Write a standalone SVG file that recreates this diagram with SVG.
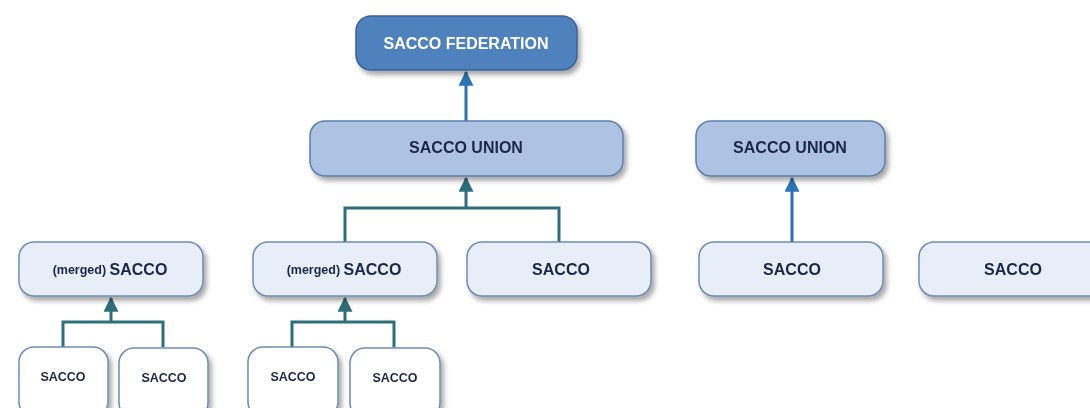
<svg xmlns="http://www.w3.org/2000/svg" width="1090" height="408" viewBox="0 0 1090 408">
<defs>
<filter id="sh" x="-10%" y="-20%" width="130%" height="160%">
<feDropShadow dx="3" dy="4" stdDeviation="2.5" flood-color="#000" flood-opacity="0.35"/>
</filter>
<marker id="ab" viewBox="0 0 12 12" refX="11" refY="6" markerWidth="15" markerHeight="15" markerUnits="userSpaceOnUse" orient="auto">
<path d="M0,0 L12,6 L0,12 Z" fill="#2a73b5"/>
</marker>
<marker id="at" viewBox="0 0 12 12" refX="11" refY="6" markerWidth="15" markerHeight="15" markerUnits="userSpaceOnUse" orient="auto">
<path d="M0,0 L12,6 L0,12 Z" fill="#2e6e7a"/>
</marker>
</defs>
<style>
text{font-family:"Liberation Sans",Arial,sans-serif;font-weight:bold;text-anchor:middle;fill:#1a2747}
.fed rect{fill:#4f81bd;stroke:#3a639a;stroke-width:1.5}
.fed text{fill:#ffffff;font-size:16px}
.uni rect{fill:#aec3e3;stroke:#5f7ea8;stroke-width:1.5}
.uni text{font-size:16px}
.s2 rect{fill:#e8eef8;stroke:#6f8cb3;stroke-width:1.5}
.s2 text{font-size:16px}
.s2 .m{font-size:12.5px}
.s3 rect{fill:#ffffff;stroke:#6f8cb3;stroke-width:1.5}
.s3 text{font-size:12.5px}
.cb{fill:none;stroke:#2a73b5;stroke-width:3}
.ct{fill:none;stroke:#2e6e7a;stroke-width:3}
</style>
<g id="connectors">
<path class="cb" d="M466,121 L466,72" marker-end="url(#ab)"/>
<path class="cb" d="M792,242 L792,178" marker-end="url(#ab)"/>
<path class="ct" d="M345,242 L345,208 L559,208 L559,242"/>
<path class="ct" d="M466,208 L466,178" marker-end="url(#at)"/>
<path class="ct" d="M63,347 L63,322 L163,322 L163,347"/>
<path class="ct" d="M111,322 L111,298" marker-end="url(#at)"/>
<path class="ct" d="M292,347 L292,322 L394,322 L394,347"/>
<path class="ct" d="M345,322 L345,298" marker-end="url(#at)"/>
</g>
<g id="federation" class="fed" filter="url(#sh)">
<rect x="356" y="16" width="221" height="54" rx="15"/>
<text x="466" y="49">SACCO FEDERATION</text>
</g>
<g id="union1" class="uni" filter="url(#sh)">
<rect x="310" y="121" width="313" height="55" rx="15"/>
<text x="466" y="153">SACCO UNION</text>
</g>
<g id="union2" class="uni" filter="url(#sh)">
<rect x="696" y="121" width="189" height="55" rx="15"/>
<text x="790" y="153">SACCO UNION</text>
</g>
<g id="merged1" class="s2" filter="url(#sh)">
<rect x="19" y="242" width="184" height="54" rx="15"/>
<text x="110" y="275"><tspan class="m" dy="-1">(merged) </tspan><tspan dy="1">SACCO</tspan></text>
</g>
<g id="merged2" class="s2" filter="url(#sh)">
<rect x="253" y="242" width="184" height="54" rx="15"/>
<text x="344" y="275"><tspan class="m" dy="-1">(merged) </tspan><tspan dy="1">SACCO</tspan></text>
</g>
<g id="sacco2a" class="s2" filter="url(#sh)">
<rect x="467" y="242" width="184" height="54" rx="15"/>
<text x="561" y="275">SACCO</text>
</g>
<g id="sacco2b" class="s2" filter="url(#sh)">
<rect x="699" y="242" width="184" height="54" rx="15"/>
<text x="792" y="275">SACCO</text>
</g>
<g id="sacco2c" class="s2" filter="url(#sh)">
<rect x="919" y="242" width="190" height="54" rx="15"/>
<text x="1013" y="275">SACCO</text>
</g>
<g id="sacco3a" class="s3" filter="url(#sh)">
<rect x="19" y="347" width="89" height="70" rx="15"/>
<text x="63" y="381">SACCO</text>
</g>
<g id="sacco3b" class="s3" filter="url(#sh)">
<rect x="119" y="348" width="89" height="70" rx="15"/>
<text x="164" y="382">SACCO</text>
</g>
<g id="sacco3c" class="s3" filter="url(#sh)">
<rect x="248" y="347" width="90" height="70" rx="15"/>
<text x="293" y="381">SACCO</text>
</g>
<g id="sacco3d" class="s3" filter="url(#sh)">
<rect x="350" y="348" width="90" height="70" rx="15"/>
<text x="395" y="382">SACCO</text>
</g>
</svg>
